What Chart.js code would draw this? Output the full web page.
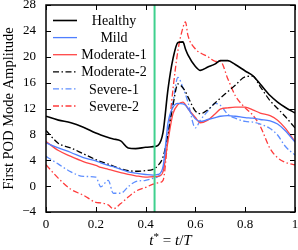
<!DOCTYPE html>
<html>
<head>
<meta charset="utf-8">
<script src="https://cdn.jsdelivr.net/npm/chart.js@4.4.1/dist/chart.umd.min.js"></script>
<style>
html, body { margin: 0; padding: 0; background: #fff; }
#wrap { width: 298px; height: 250px; }
</style>
</head>
<body>
<div id="wrap"><canvas id="grafico" width="298" height="250"></canvas></div>
<script>
// t* = t/T
const tVals = [0, 0.05, 0.1, 0.15, 0.2, 0.22, 0.25, 0.27, 0.3, 0.33, 0.36, 0.4, 0.43, 0.45, 0.47, 0.49, 0.51, 0.53, 0.55, 0.56, 0.57, 0.6, 0.62, 0.65, 0.68, 0.7, 0.73, 0.76, 0.8, 0.83, 0.86, 0.9, 0.93, 0.96, 1.0];

const healthy   = [10.8, 10.2, 9.8, 9.1, 8.2, 7.9, 7.5, 7.3, 7.0, 5.9, 5.8, 6.0, 6.1, 6.3, 8.3, 15.0, 19.7, 22.2, 22.3, 21.2, 20.3, 18.5, 17.9, 18.4, 18.9, 19.4, 19.4, 18.8, 17.8, 17.1, 15.8, 14.0, 13.0, 12.2, 11.3];
const mild      = [6.7, 5.9, 5.2, 4.4, 3.9, 3.6, 3.2, 3.0, 2.6, 2.2, 2.0, 1.8, 1.7, 1.8, 3.0, 9.8, 12.2, 12.8, 12.7, 12.5, 12.0, 10.4, 10.0, 10.3, 10.6, 10.8, 10.9, 10.8, 10.6, 10.5, 10.3, 10.1, 9.6, 8.6, 6.8];
const moderate1 = [6.9, 5.5, 4.6, 3.8, 3.2, 2.9, 2.6, 2.4, 2.1, 1.8, 1.6, 1.4, 1.45, 1.5, 2.2, 7.0, 11.2, 12.6, 13.0, 12.6, 12.0, 10.6, 9.8, 10.2, 11.2, 11.9, 12.1, 12.2, 12.2, 11.8, 11.3, 10.9, 10.2, 9.0, 6.9];
const moderate2 = [8.6, 6.6, 5.9, 5.0, 4.1, 3.8, 3.4, 3.1, 2.7, 2.4, 2.3, 2.4, 2.6, 3.2, 4.5, 8.0, 12.5, 15.8, 15.2, 14.6, 13.8, 11.6, 11.2, 11.8, 12.9, 13.6, 14.6, 15.6, 16.9, 17.0, 15.4, 13.2, 12.0, 10.8, 9.0];
const severe1   = [4.6, 3.4, 2.2, 1.5, 1.4, -0.1, 0.9, -1.1, -1.1, -0.1, 0.7, 0.9, 1.2, 1.5, 2.6, 8.5, 13.0, 16.8, 15.2, 14.2, 13.0, 9.0, 10.2, 11.6, 12.8, 12.5, 11.1, 10.5, 10.0, 9.9, 9.6, 8.9, 7.9, 6.2, 4.8];
const severe2   = [3.3, 1.2, -0.5, -1.4, -2.5, -2.6, -2.9, -3.5, -2.7, -1.7, -0.8, -0.2, 0.3, 0.5, 0.9, 7.5, 15.0, 21.0, 24.5, 25.4, 23.3, 21.2, 20.6, 20.0, 19.3, 19.3, 16.6, 14.0, 12.1, 11.0, 9.3, 5.8, 4.4, 3.7, 3.3];

const nombres = ['Healthy', 'Mild', 'Moderate-1', 'Moderate-2', 'Severe-1', 'Severe-2'];
const xTicks = [0, 0.2, 0.4, 0.6, 0.8, 1];
const yTicks = [-4, 0, 4, 8, 12, 16, 20, 24, 28];
const lineaVerde = 0.436;

const fuente = 'Liberation Serif';

function puntos(ys) {
    return tVals.map((t, i) => ({ x: t, y: ys[i] }));
}

function serie(label, ys, color, ancho, dash) {
    return {
        label: label,
        data: puntos(ys),
        borderColor: color,
        borderWidth: ancho,
        borderDash: dash,
        pointRadius: 0,
        cubicInterpolationMode: 'monotone',
        fill: false
    };
}

const dashDot = [6, 2.5, 1.5, 2.5];

const datasets = [
    {
        label: '',
        data: [{ x: lineaVerde, y: yTicks[0] }, { x: lineaVerde, y: yTicks[yTicks.length - 1] }],
        borderColor: '#3fd08e',
        borderWidth: 2,
        pointRadius: 0
    },
    serie(nombres[0], healthy, '#000000', 1.6, []),
    serie(nombres[1], mild, '#4f7fff', 1.3, []),
    serie(nombres[2], moderate1, '#ff4646', 1.3, []),
    serie(nombres[3], moderate2, '#000000', 1.3, dashDot),
    serie(nombres[4], severe1, '#5f8fff', 1.3, dashDot),
    serie(nombres[5], severe2, '#ff3b3b', 1.3, dashDot)
];

// marco, ticks hacia dentro, leyenda y título del eje x
const marcoPlugin = {
    id: 'marco',
    afterDraw(chart) {
        const { ctx, chartArea: a, scales: { x, y } } = chart;
        ctx.save();
        ctx.strokeStyle = '#000';
        ctx.lineWidth = 1;
        ctx.setLineDash([]);
        ctx.beginPath();
        xTicks.forEach(v => {
            const px = Math.round(x.getPixelForValue(v)) + 0.5;
            ctx.moveTo(px, a.bottom); ctx.lineTo(px, a.bottom - 5);
            ctx.moveTo(px, a.top); ctx.lineTo(px, a.top + 5);
        });
        yTicks.forEach(v => {
            const py = Math.round(y.getPixelForValue(v)) + 0.5;
            ctx.moveTo(a.left, py); ctx.lineTo(a.left + 5, py);
            ctx.moveTo(a.right, py); ctx.lineTo(a.right - 5, py);
        });
        ctx.stroke();
        ctx.lineWidth = 1.5;
        ctx.strokeRect(a.left, a.top, a.right - a.left, a.bottom - a.top);

        // leyenda
        ctx.font = '14px "' + fuente + '"';
        ctx.fillStyle = '#000';
        ctx.textAlign = 'center';
        ctx.textBaseline = 'middle';
        chart.data.datasets.slice(1).forEach((ds, i) => {
            const ly = a.top + 15.5 + i * 17.1;
            ctx.strokeStyle = ds.borderColor;
            ctx.lineWidth = ds.borderWidth;
            ctx.setLineDash(ds.borderDash || []);
            ctx.beginPath();
            ctx.moveTo(a.left + 7, ly);
            ctx.lineTo(a.left + 31, ly);
            ctx.stroke();
            ctx.fillText(ds.label, a.left + 68, ly + 1);
        });
        ctx.setLineDash([]);

        // t* = t/T
        const partes = [
            { s: 't', f: 'italic 15px "' + fuente + '"', dy: 0 },
            { s: '*', f: '11px "' + fuente + '"', dy: -5 },
            { s: ' = ', f: '15px "' + fuente + '"', dy: 0 },
            { s: 't', f: 'italic 15px "' + fuente + '"', dy: 0 },
            { s: '/', f: '15px "' + fuente + '"', dy: 0 },
            { s: 'T', f: 'italic 15px "' + fuente + '"', dy: 0 }
        ];
        let total = 0;
        partes.forEach(p => { ctx.font = p.f; p.w = ctx.measureText(p.s).width; total += p.w; });
        let cx = (a.left + a.right) / 2 - total / 2;
        ctx.textAlign = 'left';
        ctx.textBaseline = 'alphabetic';
        partes.forEach(p => {
            ctx.font = p.f;
            ctx.fillText(p.s, cx, 245 + p.dy);
            cx += p.w;
        });
        ctx.restore();
    }
};

new Chart(document.getElementById('grafico'), {
    type: 'line',
    data: { datasets: datasets },
    options: {
        responsive: false,
        devicePixelRatio: 1,
        animation: false,
        layout: { padding: { top: 5, right: 3, left: 0, bottom: 0 } },
        plugins: { legend: { display: false }, tooltip: { enabled: false } },
        scales: {
            x: {
                type: 'linear',
                min: 0,
                max: 1,
                grid: { display: false, drawTicks: false },
                border: { display: false },
                ticks: {
                    stepSize: 0.2,
                    padding: 5,
                    maxRotation: 0,
                    autoSkip: false,
                    color: '#000',
                    font: { family: fuente, size: 13 },
                    callback: v => String(Math.round(v * 10) / 10)
                },
                afterFit(s) { s.height = 38; s.paddingLeft = 0; s.paddingRight = 0; }
            },
            y: {
                type: 'linear',
                min: -4,
                max: 28,
                grid: { display: false, drawTicks: false },
                border: { display: false },
                ticks: {
                    stepSize: 4,
                    padding: 10,
                    color: '#000',
                    font: { family: fuente, size: 13 },
                    callback: v => v < 0 ? '\u2212' + Math.abs(v) : String(v)
                },
                title: {
                    display: true,
                    text: 'First POD Mode Amplitude',
                    color: '#000',
                    font: { family: fuente, size: 14.5 },
                    padding: { top: 0, bottom: 0 }
                },
                afterFit(s) { s.width = 46; s.paddingTop = 0; s.paddingBottom = 0; }
            }
        }
    },
    plugins: [marcoPlugin]
});
</script>
</body>
</html>
